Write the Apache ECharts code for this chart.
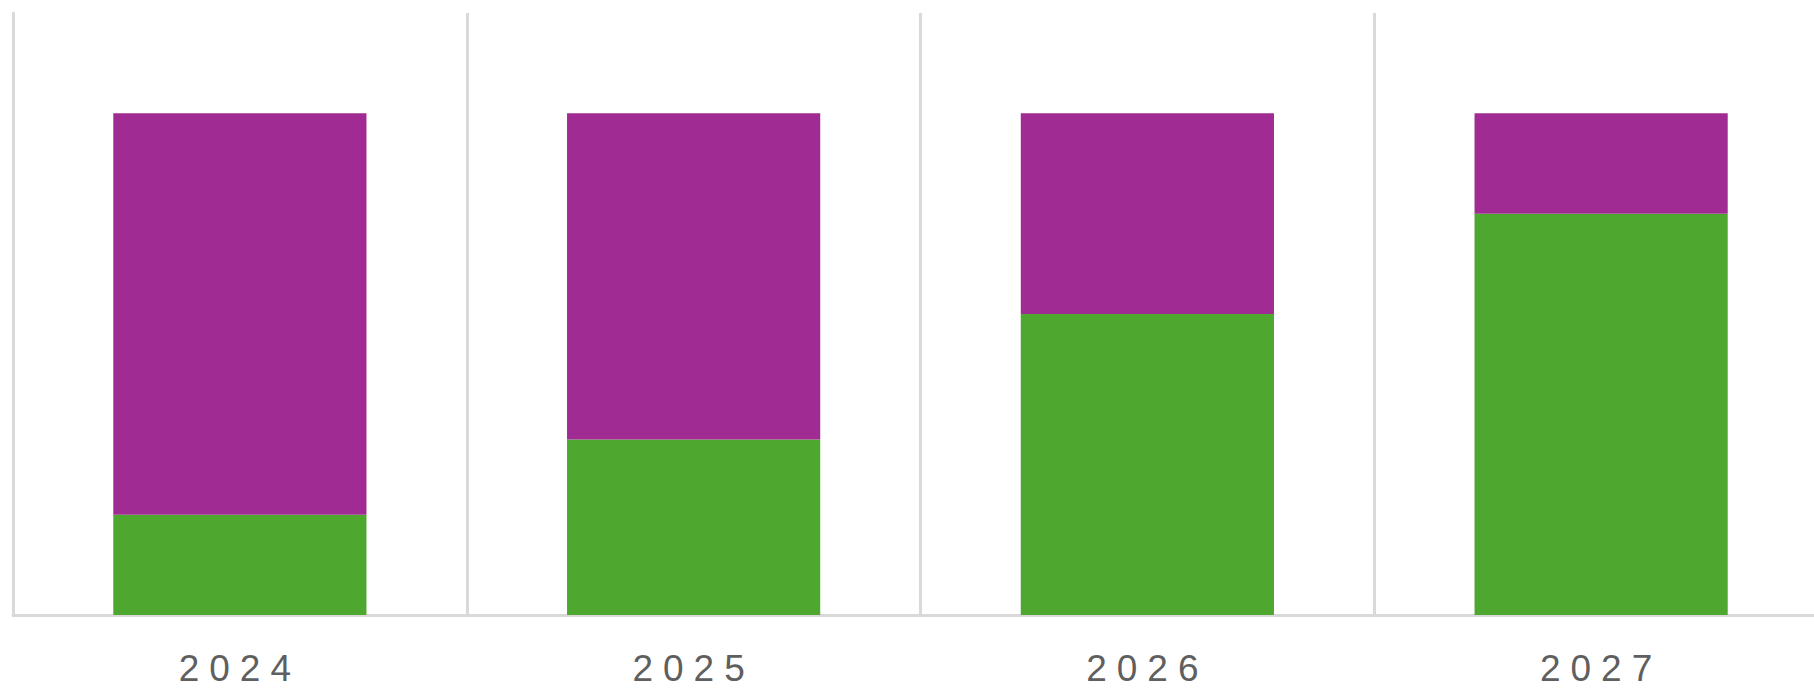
<!DOCTYPE html>
<html>
<head>
<meta charset="utf-8">
<script src="https://cdn.jsdelivr.net/npm/echarts@6/dist/echarts.min.js"></script>
<style>
  html, body { margin: 0; padding: 0; background: #fff; }
  #chart { width: 1814px; height: 688px; }
  /* axis labels in the reference are spaced out */
  #chart text { letter-spacing: 10px; }
</style>
</head>
<body>
<div id="chart"></div>
<script>
// data (share of 100 per year)
const years = ['2024', '2025', '2026', '2027'];
const greenShare = [20, 35, 60, 80];
const purpleShare = [80, 65, 40, 20];

const gridColor = '#d9d9d9';

const chart = echarts.init(document.getElementById('chart'), null, { renderer: 'svg' });

chart.setOption({
  animation: false,
  backgroundColor: '#ffffff',
  grid: {
    left: 13,
    right: -14,
    top: 13,
    bottom: 73,
    containLabel: false,
    outerBoundsMode: 'none'
  },
  xAxis: {
    type: 'category',
    data: years,
    boundaryGap: true,
    axisLine: { show: true, lineStyle: { color: gridColor, width: 3 } },
    axisTick: { show: false },
    splitLine: { show: true, interval: 0, lineStyle: { color: gridColor, width: 3 } },
    axisLabel: {
      interval: 0,
      margin: 35,
      color: '#5f5f5f',
      fontSize: 37,
      fontFamily: 'Liberation Sans, Arial, sans-serif'
    }
  },
  yAxis: {
    type: 'value',
    min: 0,
    max: 120,
    axisLine: { show: true, lineStyle: { color: gridColor, width: 3 } },
    axisTick: { show: false },
    axisLabel: { show: false },
    splitLine: { show: false }
  },
  series: [
    {
      name: 'green',
      type: 'bar',
      stack: 'total',
      barWidth: '55.8%',
      itemStyle: { color: '#4ea72e' },
      data: greenShare
    },
    {
      name: 'purple',
      type: 'bar',
      stack: 'total',
      barWidth: '55.8%',
      itemStyle: { color: '#a02b93' },
      data: purpleShare
    }
  ]
});
</script>
</body>
</html>
